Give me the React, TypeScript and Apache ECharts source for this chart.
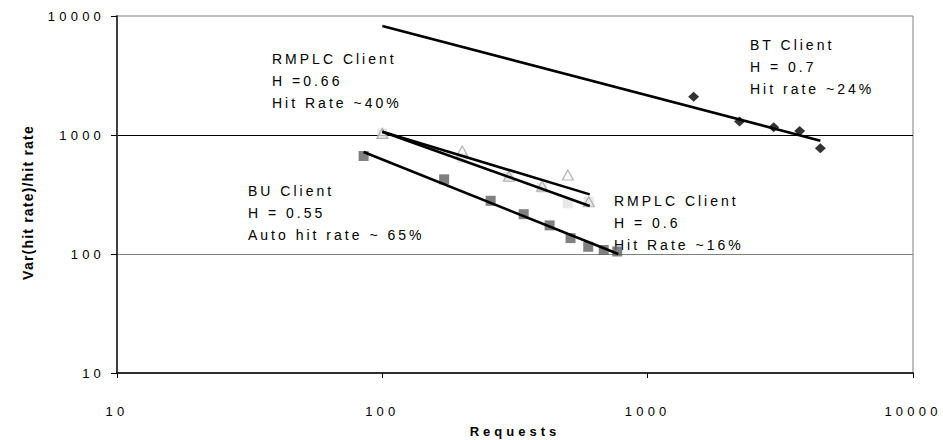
import React, { useEffect, useRef } from "react";
import * as echarts from "echarts";

// ---- data ----
const xRange = [10, 10000];
const yRange = [10, 10000];

const btPoints = [
  [1490, 2100],
  [2220, 1300],
  [2985, 1160],
  [3740, 1080],
  [4475, 773],
];
const btTrend = [
  [100, 8240],
  [4475, 896],
];

const buPoints = [
  [85, 666],
  [171, 424],
  [256, 280],
  [341, 216],
  [427, 174],
  [512, 136],
  [597, 115],
  [683, 108],
  [768, 105],
];
const buTrend = [
  [85, 720],
  [775, 100],
];

const rmplc66Points = [
  [100, 1033],
  [200, 734],
  [300, 450],
  [400, 372],
  [500, 461],
  [600, 275],
];
const rmplc66Trend = [
  [100, 1066],
  [605, 317],
];

const rmplc60Points = [
  [100, 1033],
  [200, 640],
  [300, 447],
  [400, 360],
  [500, 267],
  [600, 275],
];
const rmplc60Trend = [
  [100, 1066],
  [605, 253],
];

const btLabel = ["BT Client", "H = 0.7", "Hit rate ~24%"];
const rmplc66Label = ["RMPLC Client", "H =0.66", "Hit Rate ~40%"];
const buLabel = ["BU Client", "H = 0.55", "Auto hit rate ~ 65%"];
const rmplc60Label = ["RMPLC Client", "H = 0.6", "Hit Rate ~16%"];

const xTitle = "Requests";
const yTitle = "Var(hit rate)/hit rate";

const FONT = "Liberation Sans";

const css = `
#chart-root text[style*="13px"]:not([style*="bold"]) { letter-spacing: 4.2px; }
#chart-root text[style*="13px"][style*="bold"] { letter-spacing: 4px; }
#chart-root text[style*="14px"]:not([style*="bold"]) { letter-spacing: 3px; }
#chart-root text[style*="14px"][style*="bold"] { letter-spacing: 1.2px; }
`;

function annotation(lines: string[], x: number, y: number) {
  return {
    type: "text",
    x,
    y,
    silent: true,
    style: {
      text: lines.join("\n"),
      fontSize: 14,
      fontFamily: FONT,
      fill: "#000",
      lineHeight: 22,
      align: "left",
      verticalAlign: "top",
    },
  };
}

function trendSeries(data: number[][]) {
  return {
    type: "line",
    data,
    symbol: "none",
    silent: true,
    lineStyle: { color: "#000", width: 2.6 },
    z: 5,
  };
}

export default function App() {
  const ref = useRef<HTMLDivElement>(null);

  useEffect(() => {
    document.body.style.margin = "0";
    if (!ref.current) return;
    const chart = echarts.init(ref.current, null, { renderer: "svg" });
    const labelStyle = { fontSize: 13, fontFamily: FONT, color: "#000" };
    chart.setOption({
      animation: false,
      grid: {
        left: 117,
        right: 30,
        top: 16,
        bottom: 67,
        containLabel: false,
        outerBoundsMode: "none",
        show: true,
        borderColor: "#808080",
        borderWidth: 1,
        backgroundColor: "transparent",
      },
      xAxis: {
        type: "log",
        logBase: 10,
        min: xRange[0],
        max: xRange[1],
        name: xTitle,
        nameLocation: "middle",
        nameGap: 52,
        nameTextStyle: { fontSize: 13, fontWeight: "bold", fontFamily: FONT, color: "#000" },
        axisLine: { show: true, lineStyle: { color: "#000", width: 1.5 } },
        axisTick: { show: true, inside: false, length: 5, lineStyle: { color: "#000", width: 1 } },
        minorTick: { show: false },
        splitLine: { show: false },
        axisLabel: { ...labelStyle, margin: 32, formatter: (v: number) => String(Math.round(v)) },
      },
      yAxis: {
        type: "log",
        logBase: 10,
        min: yRange[0],
        max: yRange[1],
        name: yTitle,
        nameLocation: "middle",
        nameGap: 82,
        nameRotate: 90,
        nameTextStyle: {
          fontSize: 14,
          fontWeight: "bold",
          fontFamily: FONT,
          color: "#000",
          padding: [0, 16, 0, 0],
        },
        axisLine: { show: true, lineStyle: { color: "#404040", width: 2 } },
        axisTick: { show: true, inside: false, length: 6, lineStyle: { color: "#000", width: 1 } },
        minorTick: { show: false },
        splitLine: {
          show: true,
          showMinLine: false,
          showMaxLine: false,
          lineStyle: { color: ["#808080", "#000"], width: 1 },
        },
        axisLabel: { ...labelStyle, margin: 12, formatter: (v: number) => String(Math.round(v)) },
      },
      series: [
        {
          type: "scatter",
          data: buPoints,
          symbol: "rect",
          symbolSize: 10,
          itemStyle: { color: "#606060" },
          silent: true,
          z: 2,
        },
        {
          type: "scatter",
          data: rmplc60Points,
          symbol: "rect",
          symbolSize: 10,
          itemStyle: { color: "#e2e2e2" },
          silent: true,
          z: 2,
        },
        {
          type: "scatter",
          data: rmplc66Points,
          symbol: "triangle",
          symbolSize: [11, 10],
          itemStyle: { color: "rgba(255,255,255,0)", borderColor: "#a0a0a0", borderWidth: 1.2 },
          silent: true,
          z: 3,
        },
        {
          type: "scatter",
          data: btPoints,
          symbol: "diamond",
          symbolSize: [11, 10],
          itemStyle: { color: "#000" },
          silent: true,
          z: 3,
        },
        trendSeries(btTrend),
        trendSeries(buTrend),
        trendSeries(rmplc66Trend),
        trendSeries(rmplc60Trend),
      ],
      graphic: [
        annotation(btLabel, 750, 34),
        annotation(rmplc66Label, 272, 48),
        annotation(buLabel, 248, 180),
        annotation(rmplc60Label, 614, 190),
      ],
    });
    return () => chart.dispose();
  }, []);

  return (
    <>
      <style>{css}</style>
      <div
        id="chart-root"
        ref={ref}
        style={{ position: "fixed", left: 0, top: 0, width: 943, height: 440, background: "#fff" }}
      />
    </>
  );
}
